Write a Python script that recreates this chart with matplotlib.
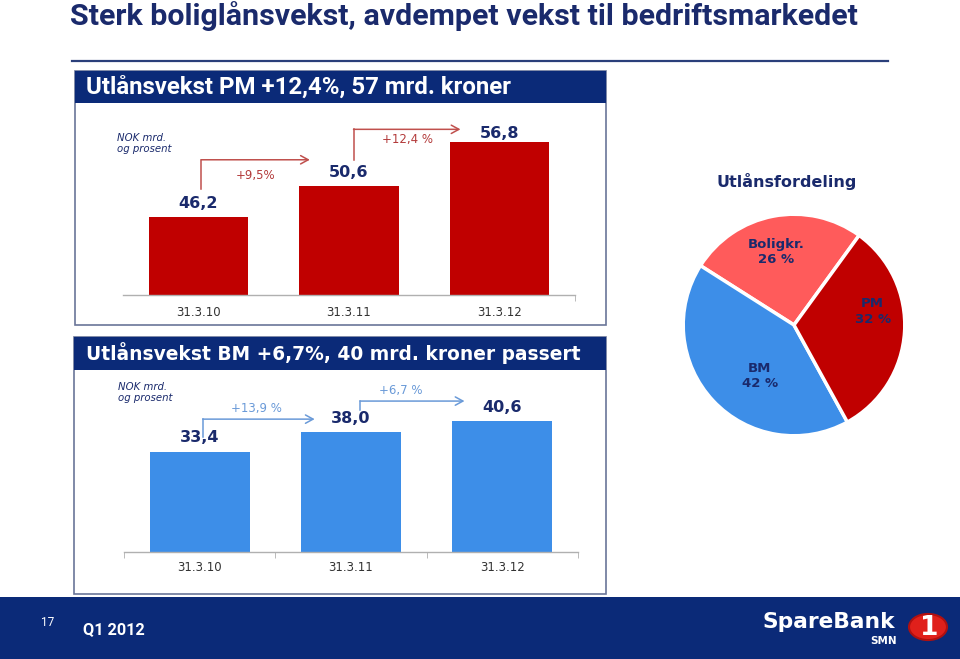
import matplotlib
matplotlib.use("Agg")
import matplotlib.pyplot as plt
from matplotlib.patches import Rectangle, Circle

# ---------------- data ----------------
dates = ["31.3.10", "31.3.11", "31.3.12"]
pm_values = [46.2, 50.6, 56.8]
pm_growth = ["+9,5%", "+12,4 %"]
bm_values = [33.4, 38.0, 40.6]
bm_growth = ["+13,9 %", "+6,7 %"]
pie_labels = ["Boligkr.", "BM", "PM"]
pie_shares = [26, 42, 32]

title = "Sterk boliglånsvekst, avdempet vekst til bedriftsmarkedet"
pm_header = "Utlånsvekst PM +12,4%, 57 mrd. kroner"
bm_header = "Utlånsvekst BM +6,7%, 40 mrd. kroner passert"
pie_title = "Utlånsfordeling"
unit_note = "NOK mrd.\nog prosent"

# ---------------- style ----------------
NAVY = "#0b2a78"
TXT_NAVY = "#1a2a6c"
RED = "#c00000"
LIGHT_RED = "#ff5b5b"
BLUE = "#3d8ee8"
BORDER = "#6a7598"
NARROW = {"family": ["Roboto", "DejaVu Sans"]}

plt.rcParams["font.family"] = ["DejaVu Sans"]

W, H = 960, 659
fig = plt.figure(figsize=(W / 100, H / 100), dpi=100)
renderer = fig.canvas.get_renderer()


def fx(x):
    return x / W


def fy(y):
    return 1 - y / H


def rect_px(x0, y0, x1, y1, **kw):
    fig.add_artist(Rectangle((fx(x0), fy(y1)), (x1 - x0) / W, (y1 - y0) / H,
                             transform=fig.transFigure, **kw))


def axes_px(x0, y0, x1, y1):
    return fig.add_axes([fx(x0), fy(y1), (x1 - x0) / W, (y1 - y0) / H])


def text_px(x, y, s, target_w=None, **kw):
    t = fig.text(fx(x), fy(y), s, **kw)
    if target_w:
        bb = t.get_window_extent(renderer)
        t.set_fontsize(t.get_fontsize() * target_w / bb.width)
    return t


def fmt(v):
    return f"{v:.1f}".replace(".", ",")


# ---------------- title ----------------
text_px(70, 16, title, target_w=786, fontsize=20, fontweight="bold",
        color=TXT_NAVY, ha="left", va="center", **NARROW)
fig.add_artist(plt.Line2D([fx(72), fx(888)], [fy(61), fy(61)],
                          transform=fig.transFigure, color="#2a3f7a", lw=1.6))

# ---------------- panel frames ----------------
rect_px(75, 71, 606, 325, facecolor="none", edgecolor=BORDER, lw=1.2)
rect_px(75, 71, 606, 103, facecolor=NAVY, edgecolor="none")
text_px(86, 87, pm_header, target_w=424, fontsize=13, fontweight="bold",
        color="white", ha="left", va="center", **NARROW)

rect_px(74, 337, 606, 594, facecolor="none", edgecolor=BORDER, lw=1.2)
rect_px(74, 337, 606, 370, facecolor=NAVY, edgecolor="none")
text_px(86, 353, bm_header, target_w=494, fontsize=12, fontweight="bold",
        color="white", ha="left", va="center")

# footer
rect_px(0, 597, 960, 659, facecolor=NAVY, edgecolor="none")
text_px(48, 622, "17", fontsize=8.5, color="white", ha="center", va="center", **NARROW)
text_px(83, 630, "Q1 2012", target_w=62, fontsize=10, fontweight="bold",
        color="white", ha="left", va="center", **NARROW)
text_px(763, 622, "SpareBank", target_w=133, fontsize=15, fontweight="bold",
        color="white", ha="left", va="center")
text_px(897, 641, "SMN", fontsize=7.5, fontweight="bold", color="white", ha="right", va="center")
fig.add_artist(Circle((fx(928), fy(627)), 19 / W, transform=fig.transFigure,
                      facecolor="#e0201b", edgecolor="none"))
fig.add_artist(Circle((fx(928), fy(627)), 19 / W, transform=fig.transFigure,
                      facecolor="none", edgecolor="#b01010", lw=1.5))
text_px(929, 628, "1", fontsize=19, fontweight="bold", color="white", ha="center", va="center")


# ---------------- bar panels ----------------
def bar_panel(ax, values, color, ylim, growth, gcolor, acolor, arrow_spec, label_spec,
              val_offsets, tick_pad, tick_positions):
    x = list(range(len(values)))
    ax.bar(x, values, width=0.66, color=color, zorder=2)
    ax.set_xlim(-0.5, len(values) - 0.5)
    ax.set_ylim(*ylim)
    for s in ("left", "right", "top"):
        ax.spines[s].set_visible(False)
    ax.spines["bottom"].set_color("#b0b0b0")
    ax.spines["bottom"].set_linewidth(1.0)
    ax.set_yticks([])
    ax.set_xticks(x, dates)
    ax.tick_params(axis="x", length=0, labelsize=8.5, labelcolor="#333333", pad=tick_pad)
    ax.set_xticks(tick_positions, minor=True)
    ax.tick_params(axis="x", which="minor", length=4, color="#b0b0b0", direction="out")
    ax.patch.set_alpha(0)
    for i, v in enumerate(values):
        ax.annotate(fmt(v), (i, v), xytext=(0, val_offsets[i]), textcoords="offset points",
                    ha="center", va="center", fontsize=11.5, fontweight="bold",
                    color=TXT_NAVY, annotation_clip=False)
    for i, g in enumerate(growth):
        dx0, bot, top, dx_end = arrow_spec[i]
        xs = i + dx0
        xe = i + dx_end
        y0 = values[i] + bot
        y1 = values[i] + top
        ax.plot([xs, xs], [y0, y1], color=acolor, lw=1.1, clip_on=False)
        ax.annotate("", xy=(xe, y1), xytext=(xs, y1),
                    arrowprops=dict(arrowstyle="->,head_length=0.55,head_width=0.3",
                                    color=acolor, lw=1.1, shrinkA=0, shrinkB=0),
                    annotation_clip=False)
        lx, ly = label_spec[i]
        ax.annotate(g, ((xs + xe) / 2, y1), xytext=(lx, ly), textcoords="offset points",
                    ha="center", va="center", fontsize=8.5, color=gcolor, annotation_clip=False)


ax1 = axes_px(123, 110, 575, 295)
bar_panel(ax1, pm_values, RED, (35.2, 35.2 + 185 / 7.08), pm_growth,
          "#b33a3a", "#c0504d",
          arrow_spec=[(0.02, 4.0, 8.1, 0.74), (0.03, 3.7, 8.0, 0.74)],
          label_spec=[(0, -11), (0, -7.5)],
          val_offsets=[9.5, 10, 6.5], tick_pad=8, tick_positions=[2.5])

ax2 = axes_px(124, 380, 578, 552)
bar_panel(ax2, bm_values, BLUE, (10.1, 10.1 + 172 / 4.3), bm_growth,
          "#6a9ad8", "#6a9ad8",
          arrow_spec=[(0.02, 3.4, 7.6, 0.76), (0.06, 5.1, 7.2, 0.75)],
          label_spec=[(-1.5, 7.5), (-8, 7.5)],
          val_offsets=[10, 9.5, 9.5], tick_pad=6.5, tick_positions=[-0.5, 0.5, 1.5, 2.5])

text_px(117, 133, unit_note, fontsize=7.3, style="italic", color=TXT_NAVY,
        ha="left", va="top", linespacing=1.15)
text_px(118, 382, unit_note, fontsize=7.3, style="italic", color=TXT_NAVY,
        ha="left", va="top", linespacing=1.15)

# ---------------- pie ----------------
text_px(787, 182, pie_title, fontsize=11.5, fontweight="bold", color=TXT_NAVY,
        ha="center", va="center")
cx, cy, r = 794, 325, 113
axp = axes_px(cx - r, cy - r, cx + r, cy + r)
axp.pie(pie_shares, colors=[LIGHT_RED, BLUE, RED], startangle=54, counterclock=True,
        radius=1.0, wedgeprops=dict(edgecolor="white", linewidth=2.5))
axp.set_xlim(-1.02, 1.02)
axp.set_ylim(-1.02, 1.02)
axp.set_aspect("equal")
axp.axis("off")
label_pos = [(-0.16, 0.66), (-0.31, -0.46), (0.71, 0.12)]
for (px_, py_), lab, sh in zip(label_pos, pie_labels, pie_shares):
    axp.text(px_, py_, f"{lab}\n{sh} %", ha="center", va="center", fontsize=9.5,
             fontweight="bold", color=TXT_NAVY, linespacing=1.25)

fig.savefig("out.png", dpi=100)
